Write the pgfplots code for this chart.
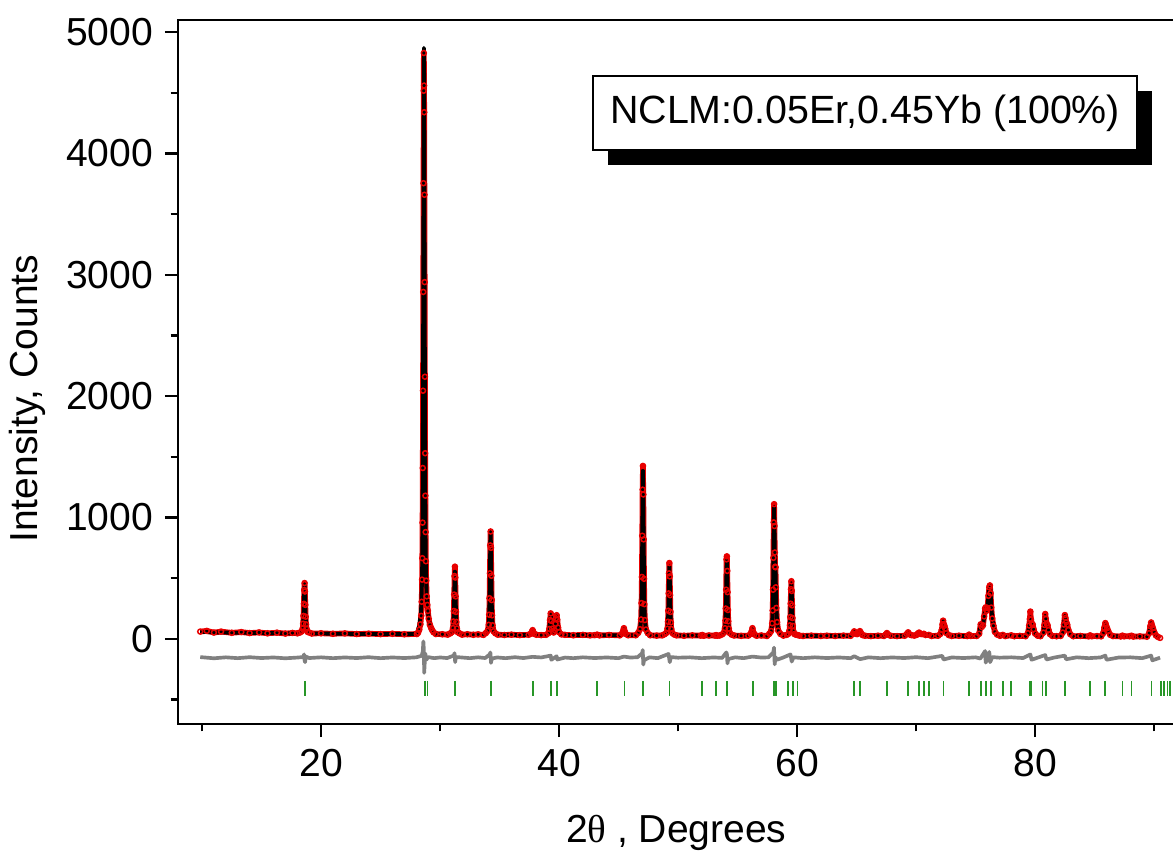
\documentclass[border=0pt]{standalone}
\usepackage{fontspec}
\setmainfont{Liberation Sans}
\newfontfamily\greekfont{Liberation Serif}
\usepackage{pgfplots}
\usepackage{pgfplotstable}
\pgfplotsset{compat=1.18}

\definecolor{obsred}{RGB}{232,0,0}
\definecolor{diffgray}{RGB}{128,128,128}
\definecolor{braggreen}{RGB}{40,150,40}

% observed intensities (red circles)
\pgfplotstableread{
x y
9.85 60
10.4 66
11 52
11.6 60
12.5 50
13.3 56
14 48
14.8 53
15.5 46
16.3 51
17 44
17.6 49
18.02 46
18.22 52
18.37 61
18.46 85
18.50 125
18.53 189
18.56 289
18.59 403
18.62 460
18.65 390
18.68 280
18.71 183
18.74 120
18.78 84
18.87 58
19.02 52
19.22 44
20 46
21 42
22 45
23 40
24 43
25 39
26 42
27 38
28.05 40
28.15 50
28.25 75
28.35 120
28.42 190
28.46 306
28.49 488
28.51 665
28.53 958
28.55 1408
28.57 2045
28.59 2859
28.61 3755
28.63 4517
28.64 4828
28.66 4560
28.67 4340
28.69 3660
28.71 2940
28.73 2160
28.75 1530
28.77 1180
28.79 880
28.81 640
28.84 480
28.88 350
28.93 280
28.98 230
29.05 165
29.15 115
29.25 90
29.35 70
29.45 55
29.65 40
30.2 38
30.65 35
30.85 45
31.00 56
31.09 89
31.13 143
31.16 230
31.19 365
31.22 518
31.25 595
31.28 505
31.31 350
31.34 222
31.37 140
31.41 86
31.50 54
31.65 45
31.85 35
32.3 38
32.8 34
33.2 37
33.65 33
33.85 48
34.00 66
34.09 116
34.13 199
34.16 335
34.19 540
34.22 770
34.25 885
34.28 750
34.31 520
34.34 320
34.37 194
34.41 112
34.50 63
34.65 46
34.85 35
35.4 32
36 35
36.7 31
37.45 34
37.65 44
37.72 58
37.78 72
37.84 56
37.91 41
38.1 34
38.5 31
38.9 33
39.1 46
39.18 82
39.24 155
39.30 210
39.36 148
39.42 84
39.50 56
39.56 53
39.63 72
39.70 124
39.75 170
39.80 195
39.85 158
39.92 93
40.0 56
40.2 37
40.5 33
41.2 30
42 33
42.6 29
43.0 31
43.2 35
43.4 29
44.2 32
45.1 29
45.3 44
45.38 64
45.45 88
45.52 61
45.6 41
45.8 30
46.45 30
46.65 50
46.80 80
46.89 160
46.93 295
46.96 510
46.99 850
47.02 1230
47.05 1425
47.08 1190
47.11 820
47.14 495
47.17 286
47.21 155
47.30 77
47.45 48
47.65 30
48.2 27
48.67 29
48.87 38
49.02 50
49.11 84
49.15 141
49.18 232
49.21 375
49.24 540
49.27 625
49.30 515
49.33 360
49.36 222
49.39 136
49.43 81
49.52 48
49.67 36
49.87 29
50.5 26
51.2 29
51.9 27
52.03 32
52.15 26
52.6 28
53.1 27
53.2 31
53.3 26
53.5 28
53.7 37
53.85 50
53.94 88
53.98 150
54.01 250
54.04 405
54.07 655
54.10 680
54.13 560
54.16 385
54.19 238
54.22 145
54.26 84
54.35 48
54.5 35
54.7 28
55.3 25
55.9 27
56.1 40
56.18 62
56.25 88
56.32 57
56.4 37
56.6 26
57.0 28
57.47 24
57.67 42
57.82 65
57.91 128
57.95 234
57.98 405
58.01 668
58.04 960
58.07 1110
58.10 930
58.13 712
58.16 595
58.19 590
58.22 425
58.26 255
58.32 138
58.42 68
58.6 41
58.85 27
59.12 33
59.27 42
59.36 68
59.40 112
59.43 180
59.46 290
59.49 410
59.52 475
59.55 395
59.58 276
59.61 172
59.64 107
59.68 65
59.77 40
59.92 34
60.04 32
60.2 27
60.5 24
61.2 27
62 24
62.5 26
63.2 24
63.9 27
64.5 25
64.7 44
64.8 62
64.92 42
65.05 39
65.18 50
65.28 64
65.38 47
65.5 31
65.7 26
66.2 23
66.8 26
67.3 24
67.45 36
67.55 48
67.65 34
67.85 26
68.4 23
69.05 26
69.22 40
69.33 54
69.45 37
69.6 31
69.85 27
70.05 33
70.15 44
70.25 52
70.37 41
70.5 39
70.65 42
70.8 32
71.06 33
71.3 24
71.85 26
72.05 42
72.15 73
72.22 120
72.27 150
72.32 122
72.38 108
72.45 83
72.55 48
72.75 31
73.0 24
73.6 26
74.3 23
74.45 35
74.6 24
75.1 24
75.3 42
75.43 120
75.52 98
75.62 112
75.72 185
75.8 250
75.85 260
75.92 232
76.0 255
76.08 355
76.15 425
76.2 440
76.26 376
76.32 258
76.4 168
76.5 108
76.62 58
76.8 36
77.05 25
77.28 33
77.5 23
78.0 29
78.25 22
78.7 25
79.2 22
79.4 47
79.5 110
79.56 165
79.6 225
79.65 160
79.72 128
79.8 118
79.88 78
80.0 44
80.2 27
80.45 22
80.7 52
80.78 115
80.85 205
80.9 165
80.97 126
81.05 112
81.13 73
81.25 39
81.45 24
81.8 22
82.15 24
82.32 52
82.42 118
82.5 196
82.55 172
82.62 138
82.7 117
82.8 73
82.95 39
83.2 22
83.8 24
84.5 21
84.62 29
84.75 22
85.2 23
85.55 21
85.72 47
85.82 93
85.9 130
85.96 112
86.05 88
86.15 63
86.3 34
86.55 23
87.2 20
87.34 27
87.48 21
87.95 22
88.1 26
88.25 19
88.8 21
89.4 18
89.58 47
89.68 104
89.75 135
89.82 112
89.9 88
90.0 58
90.15 29
90.3 17
90.5 8
}\obsdata

% calculated profile (black line)
\pgfplotstableread{
x y
9.85 58
11 54
12.5 51
14 50
15.5 48
17 46
18.02 45
18.22 51
18.37 60
18.46 83
18.50 123
18.53 186
18.56 284
18.59 394
18.62 450
18.65 394
18.68 284
18.71 186
18.74 123
18.78 83
18.87 60
19.02 51
19.22 45
21 43
23 41
25 40
27 39
28.05 40
28.25 110
28.40 212
28.49 492
28.53 966
28.56 1715
28.59 2884
28.62 4203
28.65 4870
28.68 4203
28.71 2884
28.74 1715
28.77 966
28.81 600
28.87 360
28.95 260
29.05 160
29.25 90
29.45 55
29.65 40
30.2 37
30.65 36
30.85 44
31.00 55
31.09 85
31.13 137
31.16 218
31.19 345
31.22 488
31.25 560
31.28 488
31.31 345
31.34 218
31.37 137
31.41 85
31.50 55
31.65 44
31.85 36
32.8 35
33.65 34
33.85 47
34.00 64
34.09 114
34.13 196
34.16 328
34.19 532
34.22 763
34.25 880
34.28 763
34.31 532
34.34 328
34.37 196
34.41 114
34.50 64
34.65 47
34.85 34
36 33
37.45 33
37.65 42
37.72 55
37.78 65
37.84 55
37.91 42
38.1 33
38.9 32
39.1 45
39.18 80
39.24 150
39.30 200
39.36 150
39.42 85
39.50 55
39.56 52
39.63 70
39.70 120
39.75 165
39.80 185
39.85 160
39.92 95
40.0 55
40.2 38
40.5 32
42 31
43.0 30
43.2 34
43.4 30
45.1 30
45.3 42
45.38 60
45.45 78
45.52 60
45.6 42
45.8 30
46.45 29
46.65 49
46.80 78
46.89 157
46.93 290
46.96 501
46.99 831
47.02 1202
47.05 1390
47.08 1202
47.11 831
47.14 501
47.17 290
47.21 157
47.30 78
47.45 49
47.65 29
48.67 28
48.87 37
49.02 49
49.11 82
49.15 138
49.18 226
49.21 365
49.24 521
49.27 600
49.30 521
49.33 365
49.36 226
49.39 138
49.43 82
49.52 49
49.67 37
49.87 28
51.9 27
52.03 31
52.15 27
53.1 27
53.2 30
53.3 27
53.5 27
53.7 36
53.85 49
53.94 86
53.98 147
54.01 243
54.04 394
54.07 564
54.10 650
54.13 564
54.16 394
54.19 243
54.22 147
54.26 86
54.35 49
54.5 36
54.7 27
55.9 26
56.1 38
56.18 58
56.25 78
56.32 58
56.4 38
56.6 26
57.47 25
57.67 41
57.82 63
57.91 125
57.95 229
57.98 395
58.01 652
58.04 943
58.07 1090
58.10 943
58.13 720
58.16 600
58.19 560
58.22 430
58.26 260
58.32 140
58.42 70
58.6 40
58.85 28
59.12 32
59.27 41
59.36 66
59.40 109
59.43 176
59.46 281
59.49 400
59.52 460
59.55 400
59.58 281
59.61 176
59.64 109
59.68 66
59.77 41
59.92 33
60.04 33
60.2 26
60.5 25
62.5 25
64.5 25
64.7 42
64.8 58
64.92 40
65.05 38
65.18 48
65.28 60
65.38 48
65.5 32
65.7 25
67.3 25
67.45 35
67.55 46
67.65 35
67.85 25
69.05 25
69.22 38
69.33 52
69.45 38
69.6 30
69.85 28
70.05 32
70.15 42
70.25 50
70.37 42
70.5 38
70.65 40
70.8 33
71.06 32
71.3 25
71.85 25
72.05 40
72.15 70
72.22 115
72.27 145
72.32 125
72.38 110
72.45 85
72.55 50
72.75 30
73.0 25
74.3 24
74.45 33
74.6 24
75.1 23
75.3 40
75.43 115
75.52 100
75.62 110
75.72 180
75.8 240
75.85 255
75.92 235
76.0 260
76.08 360
76.15 430
76.2 450
76.26 380
76.32 260
76.4 170
76.5 110
76.62 60
76.8 35
77.05 26
77.28 32
77.5 24
78.0 28
78.25 23
79.2 23
79.4 45
79.5 100
79.56 150
79.6 180
79.65 165
79.72 130
79.8 115
79.88 80
80.0 45
80.2 28
80.45 23
80.7 50
80.78 110
80.85 190
80.9 170
80.97 130
81.05 110
81.13 75
81.25 40
81.45 25
82.15 23
82.32 50
82.42 115
82.5 190
82.55 175
82.62 140
82.7 115
82.8 75
82.95 40
83.2 23
84.5 22
84.62 28
84.75 22
85.55 22
85.72 45
85.82 90
85.9 125
85.96 115
86.05 90
86.15 65
86.3 35
86.55 22
87.2 21
87.34 26
87.48 21
87.95 21
88.1 25
88.25 20
89.4 19
89.58 45
89.68 100
89.75 130
89.82 115
89.9 90
90.0 60
90.15 30
90.3 18
90.5 8
}\calcdata

% difference curve, offset below zero
\pgfplotstableread{
x y
9.85 -150
11 -160
12 -152
13 -159
14 -151
15 -158
16 -153
17 -160
18 -154
18.5 -150
18.58 -128
18.62 -178
18.66 -192
18.72 -145
19 -158
20 -152
21 -159
22 -153
23 -158
24 -151
25 -159
26 -153
27 -158
28 -152
28.45 -140
28.55 -105
28.6 -20
28.64 -90
28.67 -280
28.71 -205
28.76 -120
28.85 -172
29 -150
29.5 -159
30 -153
30.6 -158
31.15 -138
31.22 -118
31.27 -192
31.33 -150
31.8 -153
32.5 -159
33.2 -152
33.8 -158
34.17 -128
34.23 -112
34.28 -198
34.35 -162
34.8 -153
35.5 -159
36.3 -151
37 -158
37.78 -148
38.5 -153
39.3 -138
39.35 -172
39.8 -143
39.85 -170
40.5 -154
41.2 -159
42 -152
43 -158
44 -153
45 -159
45.45 -146
46 -154
46.6 -151
46.98 -118
47.03 -92
47.08 -212
47.14 -176
47.6 -152
48.3 -159
49.2 -124
49.3 -192
49.4 -150
50 -155
51 -152
52 -159
53 -153
53.7 -157
54.05 -112
54.1 -122
54.15 -202
54.22 -166
54.8 -152
55.5 -159
56.25 -146
57 -154
57.6 -152
58.0 -112
58.06 -72
58.12 -210
58.18 -150
58.3 -172
58.8 -155
59.45 -128
59.55 -187
59.7 -152
60.5 -159
61.5 -152
62.5 -158
63.5 -153
64.5 -159
64.8 -143
65.3 -167
66 -152
67 -159
68 -153
69 -158
70 -151
71 -159
72.2 -140
72.3 -170
73 -153
74 -158
75 -152
75.4 -162
75.8 -100
75.85 -196
76.15 -108
76.22 -192
76.4 -150
77 -155
78 -152
79 -158
79.6 -128
79.7 -172
80.3 -152
80.85 -133
80.95 -170
81.6 -154
82.5 -138
82.6 -168
83.5 -152
84.5 -159
85.5 -153
85.9 -138
86.0 -172
87 -154
88 -152
89 -159
89.75 -138
89.85 -177
90.5 -155
}\diffdata

% Bragg reflection positions
\pgfplotstableread{
x y
18.64 -410
28.73 -410
28.95 -410
31.28 -410
34.28 -410
37.81 -410
39.32 -410
39.83 -410
43.19 -410
45.49 -410
47.06 -410
49.28 -410
52.03 -410
53.20 -410
54.13 -410
56.29 -410
58.08 -410
58.25 -410
59.26 -410
59.65 -410
60.04 -410
64.81 -410
65.26 -410
67.58 -410
69.34 -410
70.26 -410
70.65 -410
71.06 -410
72.29 -410
74.47 -410
75.43 -410
75.85 -410
76.27 -410
77.28 -410
78.00 -410
79.55 -410
79.67 -410
80.61 -410
80.89 -410
82.52 -410
84.62 -410
85.88 -410
87.34 -410
88.10 -410
89.78 -410
90.57 -410
90.85 -410
91.13 -410
91.35 -410
}\braggdata

\begin{document}
\begin{tikzpicture}
\begin{axis}[
  name=ax,
  scale only axis,
  width=298.5pt, height=210.9pt,
  xmin=8, xmax=91.7,
  ymin=-700, ymax=5100,
  xtick={20,40,60,80},
  minor xtick={10,30,50,70,90},
  ytick={0,1000,2000,3000,4000,5000},
  minor ytick={-500,500,1500,2500,3500,4500},
  tick pos=left,
  tick align=outside,
  major tick length=4pt,
  minor tick length=2.3pt,
  every tick/.style={black, line width=0.75pt},
  axis line style={line width=0.75pt},
  scaled ticks=false,
  /pgf/number format/1000 sep={},
  /pgf/number format/assume math mode=true,
  tick label style={font=\fontsize{11.7}{14}\selectfont},
  label style={font=\fontsize{11.7}{14}\selectfont},
  xlabel={2{\greekfont θ} , Degrees},
  ylabel={Intensity, Counts},
  xlabel style={at={(axis description cs:0.5,-0.155)}, anchor=center},
  ylabel style={at={(axis description cs:-0.151,0.462)}, anchor=center},
]
\addplot[draw=obsred, line width=1.7pt, line join=round] table {\obsdata};
\addplot[black, line width=1.15pt, line join=round] table {\calcdata};
\addplot[obsred, only marks, mark=o, mark size=0.75pt,
  mark options={line width=0.45pt}] table {\obsdata};
\addplot[diffgray, line width=1.1pt, line join=round] table {\diffdata};
\addplot[braggreen, only marks, mark=|, mark size=2.3pt,
  mark options={line width=0.5pt}] table {\braggdata};

\node[fill=black, minimum width=162.9pt, minimum height=22.2pt, inner sep=0pt,
  xshift=4.5pt, yshift=-4.5pt] at (axis cs:65.72,4332) {};
\node[draw=black, line width=0.6pt, fill=white, minimum width=162.9pt,
  minimum height=22.2pt, inner sep=0pt, font=\fontsize{11.8}{14}\selectfont]
  at (axis cs:65.72,4332) {NCLM:0.05Er,0.45Yb (100\%)};
\end{axis}
\pgfresetboundingbox
\path ([shift={(-53.4pt,-38.7pt)}]ax.south west) rectangle ([shift={(-0.4pt,6pt)}]ax.north east);
\end{tikzpicture}
\end{document}
